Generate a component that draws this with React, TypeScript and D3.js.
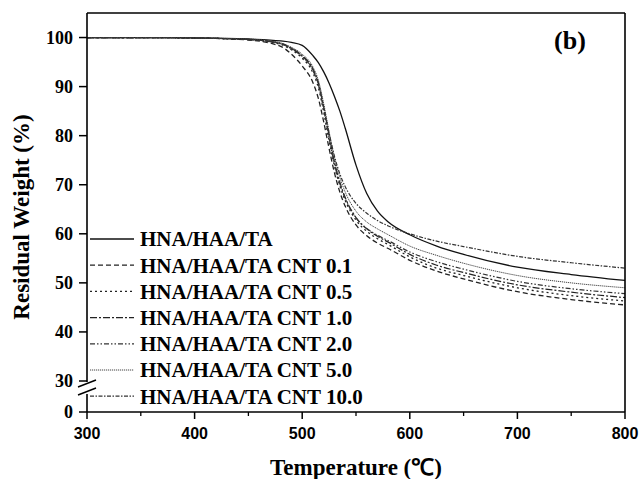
import React from 'react';
import * as d3 from 'd3';

// temperature grid shared by all TGA runs (℃)
const temps = [300, 350, 400, 450, 480, 490, 500, 510, 515, 520, 525, 530, 535, 540, 550, 560, 570, 580, 600, 625, 650, 700, 750, 800];

const seriesNames = [
  'HNA/HAA/TA',
  'HNA/HAA/TA CNT 0.1',
  'HNA/HAA/TA CNT 0.5',
  'HNA/HAA/TA CNT 1.0',
  'HNA/HAA/TA CNT 2.0',
  'HNA/HAA/TA CNT 5.0',
  'HNA/HAA/TA CNT 10.0',
];

const wPure = [100, 100, 99.95, 99.7, 99.3, 99.0, 98.4, 96.3, 94.9, 93.0, 90.7, 88.0, 85.0, 81.5, 74.0, 68.2, 64.6, 62.4, 59.8, 57.5, 55.8, 53.2, 51.7, 50.5];
const wCnt01 = [100, 100, 99.9, 99.5, 98.2, 96.6, 94.2, 90.8, 87.6, 82.8, 77.4, 72.4, 68.5, 65.6, 61.8, 59.6, 58.1, 57.0, 54.6, 52.4, 50.8, 48.2, 46.6, 45.5];
const wCnt05 = [100, 100, 99.9, 99.6, 98.6, 97.5, 95.8, 92.8, 89.8, 84.8, 79.0, 73.8, 69.8, 66.8, 62.8, 60.5, 59.0, 57.8, 55.3, 53.0, 51.5, 49.0, 47.4, 46.3];
const wCnt10 = [100, 100, 99.9, 99.6, 98.8, 97.8, 96.3, 93.6, 90.8, 85.8, 80.0, 74.6, 70.5, 67.4, 63.3, 61.0, 59.5, 58.3, 55.8, 53.6, 52.1, 49.6, 48.1, 47.0];
const wCnt20 = [100, 100, 99.9, 99.6, 98.7, 97.7, 96.1, 93.3, 90.4, 85.3, 79.5, 74.2, 70.2, 67.2, 63.3, 61.1, 59.7, 58.6, 56.3, 54.3, 52.8, 50.3, 48.8, 47.8];
const wCnt50 = [100, 100, 99.9, 99.7, 98.9, 98.0, 96.6, 94.0, 91.3, 86.5, 80.8, 75.5, 71.5, 68.5, 64.6, 62.4, 61.0, 59.8, 57.5, 55.6, 54.0, 51.5, 50.0, 49.0];
const wCnt100 = [100, 100, 99.9, 99.6, 98.8, 97.8, 96.2, 93.4, 90.6, 85.8, 80.5, 75.8, 72.2, 69.6, 66.2, 64.2, 62.7, 61.6, 60.0, 58.5, 57.4, 55.4, 54.1, 53.0];

const seriesValues = [wPure, wCnt01, wCnt05, wCnt10, wCnt20, wCnt50, wCnt100];

const xTicks = [300, 400, 500, 600, 700, 800];
const xMinorTicks = [350, 450, 550, 650, 750];
const yTicks = [0, 30, 40, 50, 60, 70, 80, 90, 100];

// line styles per series (dash patterns)
const dashes = ['', '5,3', '2,3', '7,2,2,2', '5,2,1.5,2,1.5,2', '1.2,0.8', '4,1.5,1.5,1.5'];
const widths = [1.3, 1.3, 1.3, 1.2, 1.2, 1.0, 1.2];
const colors = ['#111', '#222', '#222', '#222', '#333', '#444', '#333'];

const W = 639;
const H = 479;
const left = 87;
const right = 625;
const top = 13;
const bottom = 412;

const serif = '"Liberation Serif", "Times New Roman", serif';
const sans = '"Liberation Sans", Arial, sans-serif';

export default function App() {
  const x = d3.scaleLinear().domain([300, 800]).range([left, right]);
  // broken axis: 0..30 squeezed, 30..105 linear
  const y = d3.scaleLinear().domain([0, 30, 105]).range([bottom, 381, top]);

  const line = d3.line<number>()
    .x((d, i) => x(temps[i]))
    .y(d => y(d))
    .curve(d3.curveMonotoneX);

  const breakY1 = 384;
  const breakY2 = 392;

  return (
    <svg width={W} height={H} style={{ position: 'absolute', left: 0, top: 0, background: '#fff' }}>
      <rect x={0} y={0} width={W} height={H} fill="#fff" />
      {/* curves */}
      <g fill="none">
        {seriesValues.map((vals, i) => (
          <path key={i} d={line(vals) || ''} stroke={colors[i]} strokeWidth={widths[i]}
            strokeDasharray={dashes[i] || undefined} />
        ))}
      </g>

      {/* frame */}
      <line x1={left} y1={top} x2={right} y2={top} stroke="#000" strokeWidth={1.6} />
      <line x1={right} y1={top} x2={right} y2={bottom} stroke="#000" strokeWidth={1.6} />
      <line x1={left} y1={bottom} x2={right} y2={bottom} stroke="#000" strokeWidth={1.6} />
      <line x1={left} y1={top} x2={left} y2={breakY1 - 2} stroke="#000" strokeWidth={1.6} />
      <line x1={left} y1={breakY2 + 2} x2={left} y2={bottom} stroke="#000" strokeWidth={1.6} />
      {/* axis break marks */}
      <line x1={78} y1={breakY1 + 3} x2={96} y2={breakY1 - 4} stroke="#000" strokeWidth={1.4} />
      <line x1={78} y1={breakY2 + 3} x2={96} y2={breakY2 - 4} stroke="#000" strokeWidth={1.4} />

      {/* x ticks */}
      {xTicks.map(t => (
        <g key={t}>
          <line x1={x(t)} x2={x(t)} y1={bottom} y2={bottom + 7} stroke="#000" strokeWidth={1.5} />
          <text x={x(t)} y={439} textAnchor="middle" fontFamily={sans} fontWeight="bold" fontSize={16}>{t}</text>
        </g>
      ))}
      {xMinorTicks.map(t => (
        <line key={t} x1={x(t)} x2={x(t)} y1={bottom} y2={bottom + 4} stroke="#000" strokeWidth={1.3} />
      ))}

      {/* y ticks */}
      {yTicks.map(t => (
        <g key={t}>
          <line x1={left - 8} x2={left} y1={y(t)} y2={y(t)} stroke="#000" strokeWidth={1.5} />
          <text x={73} y={y(t)} dy="0.35em" textAnchor="end" fontFamily={serif} fontWeight="bold" fontSize={18}>{t}</text>
        </g>
      ))}

      {/* axis titles */}
      <text x={356} y={475} textAnchor="middle" fontFamily={serif} fontWeight="bold" fontSize={23}>Temperature (℃)</text>
      <text transform={`translate(29,217) rotate(-90)`} textAnchor="middle"
        fontFamily={serif} fontWeight="bold" fontSize={23}>Residual Weight (%)</text>

      {/* panel label */}
      <text x={570} y={49} textAnchor="middle" fontFamily={serif} fontWeight="bold" fontSize={26}>(b)</text>

      {/* legend */}
      {seriesNames.map((name, i) => {
        const ly = 239 + i * 26.2;
        return (
          <g key={name}>
            <line x1={90} x2={134} y1={ly} y2={ly} stroke={colors[i]} strokeWidth={widths[i]}
              strokeDasharray={dashes[i] || undefined} />
            <text x={140} y={ly} dy="0.35em" fontFamily={serif} fontWeight="bold" fontSize={21}>{name}</text>
          </g>
        );
      })}
    </svg>
  );
}
